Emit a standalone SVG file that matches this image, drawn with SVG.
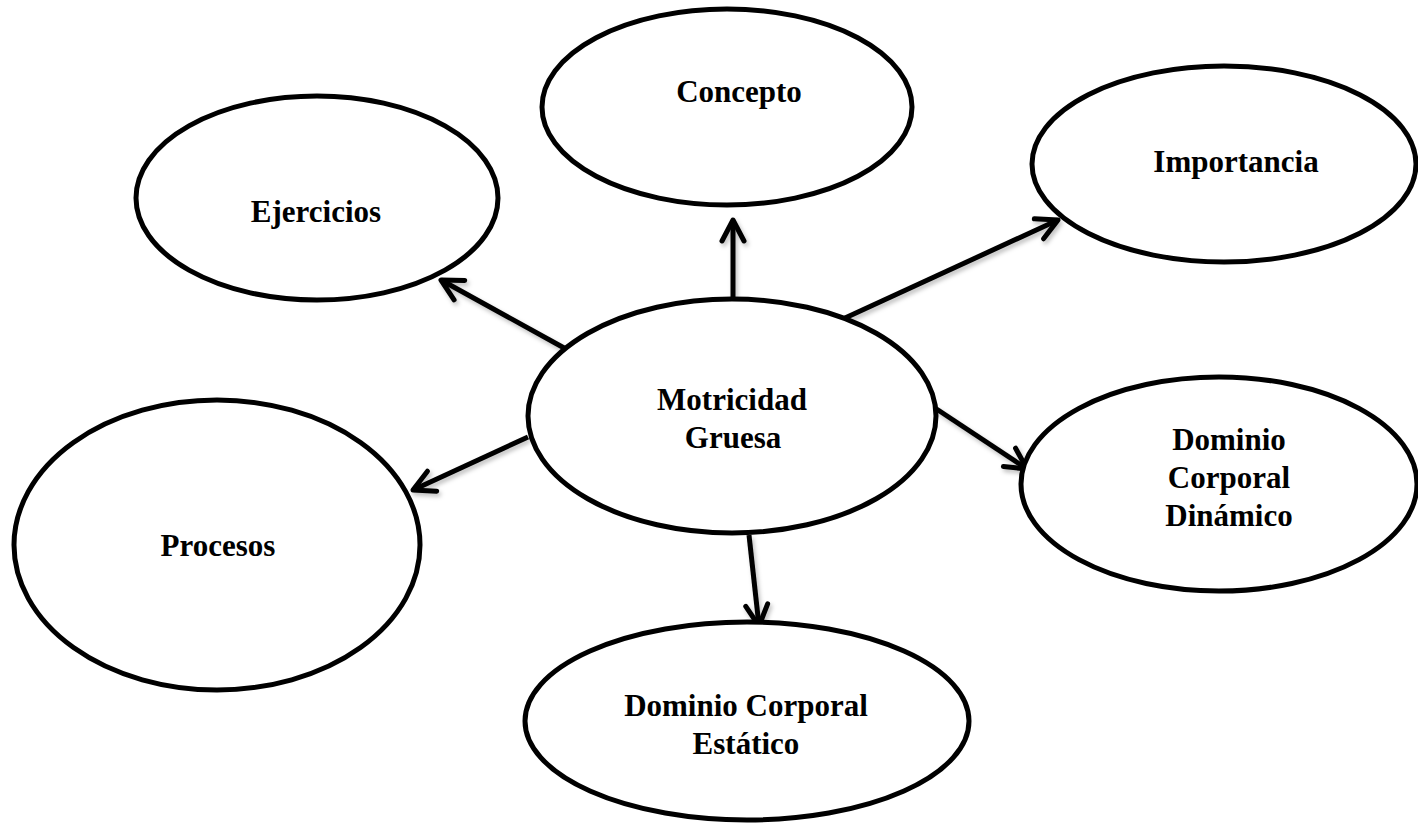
<svg xmlns="http://www.w3.org/2000/svg" width="1418" height="824" viewBox="0 0 1418 824">
<style>
.node ellipse{fill:#fff;stroke:#000;stroke-width:5}
.node text{font-family:"Liberation Serif","Times New Roman",serif;font-weight:bold;font-size:31px;fill:#000;text-anchor:middle}
.edge{stroke:#000;stroke-width:5;fill:none;marker-end:url(#arr)}
</style>
<defs>
<marker id="arr" markerUnits="userSpaceOnUse" markerWidth="40" markerHeight="40" viewBox="-30 -20 40 40" refX="0" refY="0" orient="auto" overflow="visible">
<path d="M-21,-11 L0,0 L-21,11" fill="none" stroke="#000" stroke-width="5" stroke-linecap="round" stroke-linejoin="round"/>
</marker>
<filter id="sh" x="-20%" y="-20%" width="140%" height="140%">
<feDropShadow dx="2" dy="3" stdDeviation="2" flood-color="#000" flood-opacity="0.25"/>
</filter>
</defs>
<rect width="1418" height="824" fill="#fff"/>
<g id="connectors" filter="url(#sh)">
<line class="edge" x1="733" y1="300" x2="733" y2="220"/>
<line class="edge" x1="566" y1="349" x2="441" y2="280"/>
<line class="edge" x1="845" y1="318" x2="1058" y2="220"/>
<line class="edge" x1="935" y1="408" x2="1027" y2="469"/>
<line class="edge" x1="749" y1="535" x2="759" y2="626"/>
<line class="edge" x1="528" y1="437" x2="413" y2="490"/>
</g>
<g id="concepto" class="node"><ellipse cx="727" cy="107" rx="185" ry="98"/><text x="739" y="102">Concepto</text></g>
<g id="ejercicios" class="node"><ellipse cx="317" cy="198" rx="181" ry="102"/><text x="316" y="222">Ejercicios</text></g>
<g id="importancia" class="node"><ellipse cx="1224" cy="164" rx="192" ry="98"/><text x="1236" y="172">Importancia</text></g>
<g id="motricidad" class="node"><ellipse cx="732" cy="416" rx="204" ry="117"/><text x="732" y="410">Motricidad</text><text x="733" y="448">Gruesa</text></g>
<g id="dinamico" class="node"><ellipse cx="1219" cy="484" rx="198" ry="107"/><text x="1229" y="450">Dominio</text><text x="1229" y="488">Corporal</text><text x="1229" y="526">Dinámico</text></g>
<g id="procesos" class="node"><ellipse cx="217" cy="545" rx="203" ry="145"/><text x="218" y="556">Procesos</text></g>
<g id="estatico" class="node"><ellipse cx="747" cy="721" rx="222" ry="99"/><text x="746" y="716">Dominio Corporal</text><text x="746" y="754">Estático</text></g>
</svg>
